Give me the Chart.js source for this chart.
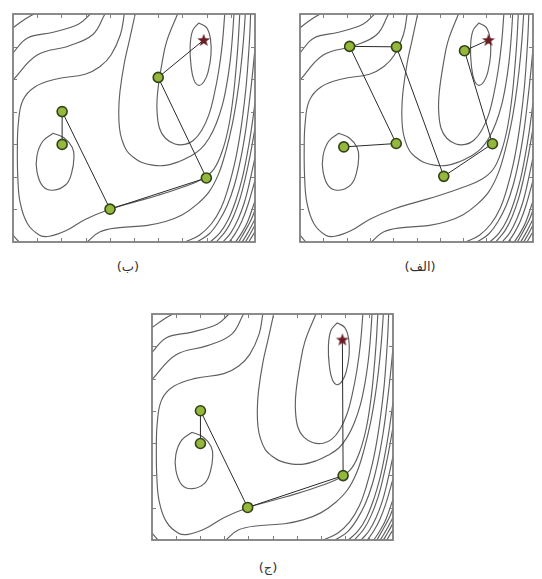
<!DOCTYPE html>
<html><head><meta charset="utf-8">
<script src="https://cdn.jsdelivr.net/npm/chart.js@4.4.1/dist/chart.umd.min.js"></script>
<style>
html,body{margin:0;padding:0;background:#fff;width:542px;height:579px;overflow:hidden;}
canvas{position:absolute;}
.lab{position:absolute;font-family:"DejaVu Sans",sans-serif;font-size:13px;line-height:16px;color:#333;text-align:center;width:80px;}
</style></head><body>
<canvas id="cBe" width="256" height="242" style="left:6px;top:7px"></canvas>
<canvas id="cAlef" width="247" height="242" style="left:293px;top:7px"></canvas>
<canvas id="cJim" width="255" height="240" style="left:145px;top:307px"></canvas>
<div class="lab" dir="rtl" style="left:88px;top:259px">(ب)</div>
<div class="lab" dir="rtl" style="left:380px;top:259px">(الف)</div>
<div class="lab" dir="rtl" style="left:228px;top:560px">(ج)</div>
<script>
// ---- tick values (normalised 0..100 frame units) ----
const xTicks = [10,20,30,40,50,60,70,80,90];
const yTicks = [14.3,28.6,42.9,57.1,71.4,85.7];

// ---- contour lines (same landscape in all three panels) ----
const contourLeftInner = [[16.6,47.7],[21.2,45.6],[24.5,41.4],[25.2,37.2],[24.2,30.2],[21.9,25.2],[16.6,22.7],[12.3,24.5],[9.9,30.9],[9.9,37.9],[12.3,44.2],[16.6,47.7]];
const contourRightInner = [[76.8,96.1],[74.2,92.6],[73.2,85.6],[73.6,77],[74.8,71],[76.8,68.7],[79,70.5],[80.6,74.5],[81.8,82],[81.6,89],[80,94],[76.8,96.1]];
const contourRight2 = [[68,100],[63.5,88],[61.5,78],[59.8,66],[59.5,58],[60.5,50],[63,45.5],[66.9,43],[71,42.8],[74.5,44.5],[78,49],[81,56],[83,64],[85,75],[86.5,87],[87.5,100]];
const contourRight3 = [[50.5,100],[48,88],[46,78.5],[44.2,66],[43.7,57.5],[44,50],[45,44.9],[47,40],[49.7,37.2],[53,35],[57.6,33.7],[63,33.6],[68.2,35.1],[73,37.5],[77.5,40.7],[81,45.5],[84,52],[86.5,60],[88.3,69],[89.7,79],[90.6,89],[91.3,100]];
const contourSaddle = [[46,100],[44.4,91],[40.5,82],[36,77],[29.8,73.6],[18,71.5],[9,68],[4,62],[2.2,52],[1.8,40],[2,28],[3,17],[6,8],[11,3],[15,2.5],[22,5],[30,10],[40,14.4],[50,17.5],[60,20.5],[70,24],[78,27.5],[83,32],[86.5,40],[89,50],[90.8,62],[92,74],[93,87],[93.7,100]];
const contourBottom1 = [[30.6,0],[36,4.5],[44,6.3],[55,7.2],[63,9],[70,12],[76,16.5],[81,22],[85,30],[88,40],[90.5,51],[92.5,63],[94,75],[95.2,88],[96,100]];
const contourBottom2 = [[71,0],[77,3],[82,8],[86,15],[89,24],[91.5,34],[93.5,45],[95,56],[96.3,68],[97.2,80],[97.8,90],[98.2,100]];
const contourBottom3 = [[76,0],[81,3.5],[85,9],[88.5,16],[91.5,25],[94,36],[96,48],[97.5,60],[98.8,72],[100,85]];
const contourBottom4 = [[81.5,0],[85.5,4],[89,10],[92,18],[94.5,27],[96.5,37],[98.3,48],[100,61]];
const contourBottom5 = [[84,0],[88,5],[91,11],[93.8,19],[96,28],[98,38],[100,50]];
const contourBottom6 = [[86.8,0],[90,4],[93,10],[95.5,17],[97.5,25],[100,37]];
const contourBottom7 = [[89.4,0],[92,4],[94.5,9],[97,16],[100,27]];
const contourBottom8 = [[92,0],[94.5,4],[97,9],[100,18]];
const contourBottom9 = [[94.7,0],[97,4],[100,10]];
const contourBottom10 = [[97.4,0],[100,4.5]];
const contourBottom11 = [[96,0],[98,3.5],[100,7.5]];
const contourBottom12 = [[93.3,0],[96,5],[98.5,10],[100,14]];
const contourUpperLeft1 = [[0,94],[4.6,97.5],[8.6,100]];
const contourUpperLeft2 = [[0,83],[6,89.5],[16.6,92],[27,95.5],[32,100]];
const contourUpperLeft3 = [[0,71],[10,82],[23,86],[33,91],[38,100]];
const contourBottomLeft = [[0,3],[2.5,0]];

const contours = [contourLeftInner, contourRightInner, contourRight2, contourRight3, contourSaddle,
  contourBottom1, contourBottom2, contourBottom3, contourBottom4, contourBottom5, contourBottom6,
  contourBottom7, contourBottom8, contourBottom9, contourBottom10, contourBottom11, contourBottom12,
  contourUpperLeft1, contourUpperLeft2, contourUpperLeft3, contourBottomLeft];

// ---- search paths ----
const pathAlef = [[18.8,41.7],[41.3,43.2],[21.3,85.8],[41.4,85.6],[61.7,28.8],[82.6,43.1],[70.6,83.9]];
const starAlef = [80.9,88.6];
const pathBe = [[20.3,42.8],[20.3,57.2],[40.1,14.4],[79.9,28.1],[60.0,72.2]];
const starBe = [78.8,88.6];
const pathJim = [[20.1,42.7],[20.1,57.2],[39.7,14.4],[79.3,28.5]];
const starJim = [79.0,88.7];

const toXY = arr => arr.map(p => ({x:p[0], y:p[1]}));

// star marker image
const starImg = document.createElement('canvas');
starImg.width = 14; starImg.height = 14;
(function(){
  const c = starImg.getContext('2d');
  c.beginPath();
  for (let i=0;i<10;i++){
    const r = i%2===0 ? 6.8 : 2.8;
    const a = -Math.PI/2 + i*Math.PI/5;
    const px = 7 + r*Math.cos(a), py = 7.5 + r*Math.sin(a);
    if (i===0) c.moveTo(px,py); else c.lineTo(px,py);
  }
  c.closePath();
  c.fillStyle = '#6b1d24';
  c.fill();
})();

const framePlugin = {
  id:'frame',
  afterDatasetsDraw(chart){
    const {ctx, chartArea:a, scales:{x, y}} = chart;
    ctx.save();
    ctx.strokeStyle = '#7f7f7f';
    ctx.lineWidth = 1;
    ctx.beginPath();
    xTicks.forEach(v => { const px = Math.round(x.getPixelForValue(v))+0.5;
      ctx.moveTo(px,a.bottom); ctx.lineTo(px,a.bottom-4);
      ctx.moveTo(px,a.top); ctx.lineTo(px,a.top+4); });
    yTicks.forEach(v => { const py = Math.round(y.getPixelForValue(v))+0.5;
      ctx.moveTo(a.left,py); ctx.lineTo(a.left+4,py);
      ctx.moveTo(a.right,py); ctx.lineTo(a.right-4,py); });
    ctx.stroke();
    ctx.lineWidth = 1.8;
    ctx.strokeRect(a.left, a.top, a.right-a.left, a.bottom-a.top);
    ctx.restore();
  }
};

function makeChart(id, path, star){
  const ds = [];
  ds.push({data: toXY([...path, star]), showLine:true, borderColor:'#2a2a2a', borderWidth:1, pointRadius:0, tension:0, order:2});
  ds.push({data: toXY(path), showLine:false, pointRadius:5, pointBackgroundColor:'#93b83c', pointBorderColor:'#33441a', pointBorderWidth:1.6, order:1});
  ds.push({data: toXY([star]), showLine:false, pointStyle:starImg, pointRadius:6, order:0});
  contours.forEach(c => ds.push({data: toXY(c), showLine:true, borderColor:'#5f5f5f', borderWidth:1.15, pointRadius:0, tension:0.4, order:3}));
  new Chart(document.getElementById(id), {
    type:'scatter',
    data:{datasets:ds},
    options:{
      responsive:false, animation:false, events:[],
      layout:{padding:2},
      plugins:{legend:{display:false}, tooltip:{enabled:false}, title:{display:false}},
      scales:{
        x:{type:'linear', min:0, max:100, display:false},
        y:{type:'linear', min:0, max:100, display:false}
      }
    },
    plugins:[framePlugin]
  });
}

makeChart('cBe', pathBe, starBe);
makeChart('cAlef', pathAlef, starAlef);
makeChart('cJim', pathJim, starJim);
</script>
</body></html>
